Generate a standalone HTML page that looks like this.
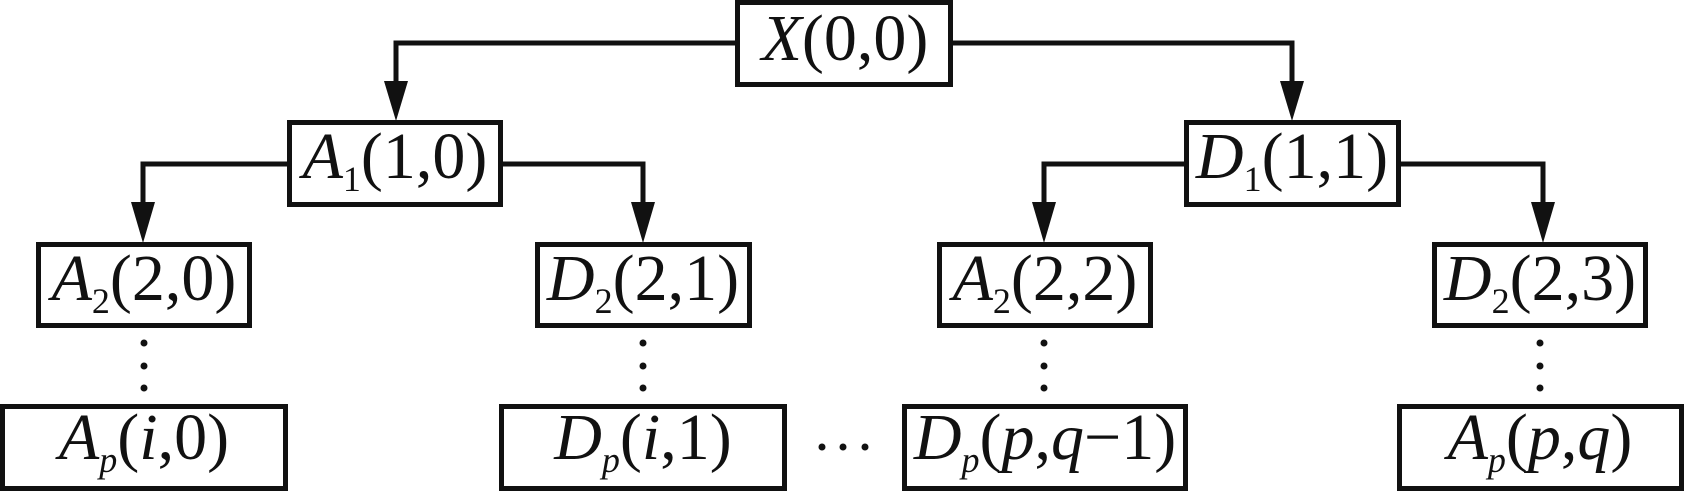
<!DOCTYPE html>
<html>
<head>
<meta charset="utf-8">
<style>
html,body{margin:0;padding:0;background:#fff;}
body{position:relative;width:1684px;height:491px;overflow:hidden;}
svg{display:block;position:absolute;left:0;top:0;}
.l{position:absolute;width:300px;text-align:center;white-space:nowrap;
   font-family:"Liberation Serif","Times New Roman",serif;font-size:66px;line-height:66px;color:#111;}
.l i{font-style:italic;}
.l .s{font-size:36px;line-height:0;vertical-align:-13px;}
</style>
</head>
<body>
<svg width="1684" height="491" viewBox="0 0 1684 491" xmlns="http://www.w3.org/2000/svg">
<g fill="none" stroke="#111" stroke-width="5">
  <rect x="737.5" y="2.5" width="213" height="82"/>
  <rect x="289.5" y="122.5" width="211" height="82"/>
  <rect x="1186.5" y="122.5" width="212" height="82"/>
  <rect x="38.5" y="244.5" width="211" height="81"/>
  <rect x="537.5" y="244.5" width="212" height="81"/>
  <rect x="939.5" y="244.5" width="211" height="81"/>
  <rect x="1434.5" y="244.5" width="211" height="81"/>
  <rect x="2.5" y="406.5" width="283" height="82"/>
  <rect x="501.5" y="406.5" width="283" height="82"/>
  <rect x="904.5" y="406.5" width="281" height="82"/>
  <rect x="1399.5" y="406.5" width="282" height="82"/>
</g>
<g fill="none" stroke="#111" stroke-width="5">
  <path d="M735 43 H396 V86"/>
  <path d="M953 43 H1292 V86"/>
  <path d="M287 164 H143 V206"/>
  <path d="M503 164 H643 V206"/>
  <path d="M1184 164 H1044 V206"/>
  <path d="M1401 164 H1543 V206"/>
</g>
<g fill="#111">
  <polygon points="384,81 408,81 396,121"/>
  <polygon points="1280,81 1304,81 1292,121"/>
  <polygon points="131,202 155,202 143,243"/>
  <polygon points="631,202 655,202 643,243"/>
  <polygon points="1032,202 1056,202 1044,243"/>
  <polygon points="1531,202 1555,202 1543,243"/>
  <circle cx="144" cy="343" r="3.5"/><circle cx="144" cy="366" r="3.5"/><circle cx="144" cy="388" r="3.5"/>
  <circle cx="643" cy="343" r="3.5"/><circle cx="643" cy="366" r="3.5"/><circle cx="643" cy="388" r="3.5"/>
  <circle cx="1044" cy="343" r="3.5"/><circle cx="1044" cy="366" r="3.5"/><circle cx="1044" cy="388" r="3.5"/>
  <circle cx="1540" cy="343" r="3.5"/><circle cx="1540" cy="366" r="3.5"/><circle cx="1540" cy="388" r="3.5"/>
  <circle cx="822" cy="447" r="3.5"/><circle cx="843" cy="447" r="3.5"/><circle cx="865" cy="447" r="3.5"/>
</g>
</svg>

<div class="l" style="left:695px;top:6px;"><i>X</i>(0,0)</div>
<div class="l" style="left:245px;top:124px;"><i>A</i><span class="s">1</span>(1,0)</div>
<div class="l" style="left:1142px;top:124px;"><i>D</i><span class="s">1</span>(1,1)</div>
<div class="l" style="left:-6px;top:246px;"><i>A</i><span class="s">2</span>(2,0)</div>
<div class="l" style="left:493px;top:246px;"><i>D</i><span class="s">2</span>(2,1)</div>
<div class="l" style="left:895px;top:246px;"><i>A</i><span class="s">2</span>(2,2)</div>
<div class="l" style="left:1390px;top:246px;"><i>D</i><span class="s">2</span>(2,3)</div>
<div class="l" style="left:-6px;top:405px;"><i>A</i><i class="s">p</i>(<i>i</i>,0)</div>
<div class="l" style="left:493px;top:405px;"><i>D</i><i class="s">p</i>(<i>i</i>,1)</div>
<div class="l" style="left:895px;top:405px;"><i>D</i><i class="s">p</i>(<i>p</i>,<i>q</i>−1)</div>
<div class="l" style="left:1390px;top:405px;"><i>A</i><i class="s">p</i>(<i>p</i>,<i>q</i>)</div>
</body>
</html>
